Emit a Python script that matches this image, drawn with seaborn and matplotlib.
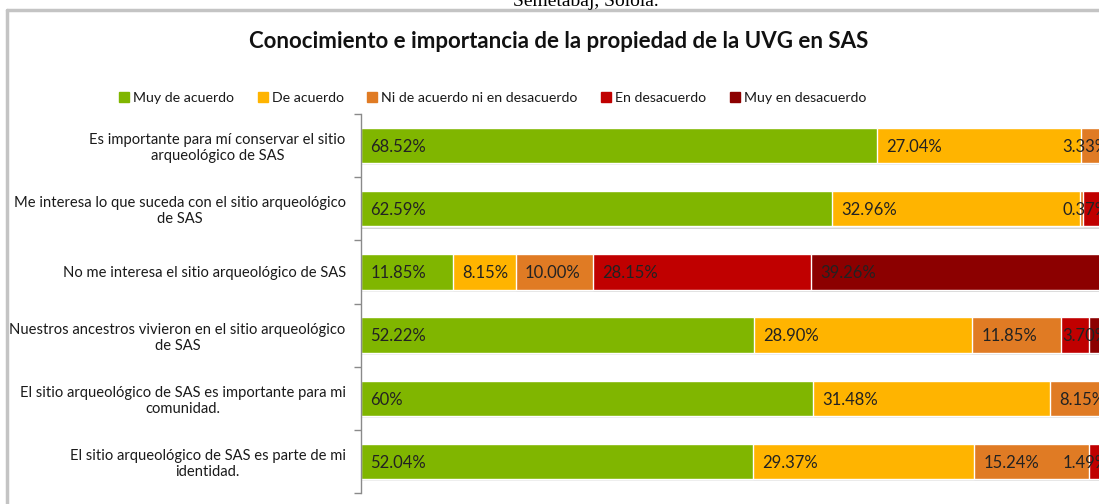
import matplotlib
matplotlib.use("Agg")
import matplotlib.pyplot as plt
import seaborn as sns
import pandas as pd
import numpy as np
from matplotlib.lines import Line2D

# ---------------- data ----------------
statements = [
    "Es importante para mí conservar el sitio\narqueológico de SAS",
    "Me interesa lo que suceda con el sitio arqueológico\nde SAS",
    "No me interesa el sitio arqueológico de SAS",
    "Nuestros ancestros vivieron en el sitio arqueológico\nde SAS",
    "El sitio arqueológico de SAS es importante para mi\ncomunidad.",
    "El sitio arqueológico de SAS es parte de mi\nidentidad.",
]
series = ["Muy de acuerdo", "De acuerdo", "Ni de acuerdo ni en desacuerdo",
          "En desacuerdo", "Muy en desacuerdo"]
muy_de_acuerdo = [68.52, 62.59, 11.85, 52.22, 60.00, 52.04]
de_acuerdo = [27.04, 32.96, 8.15, 28.90, 31.48, 29.37]
ni_de_acuerdo_ni_en_desacuerdo = [3.33, 0.37, 10.00, 11.85, 8.15, 15.24]
en_desacuerdo = [0.74, 2.22, 28.15, 3.70, 0.37, 1.49]
muy_en_desacuerdo = [0.37, 1.86, 39.26, 3.33, 0.00, 1.86]

lab_muy_de_acuerdo = ["68.52%", "62.59%", "11.85%", "52.22%", "60%", "52.04%"]
lab_de_acuerdo = ["27.04%", "32.96%", "8.15%", "28.90%", "31.48%", "29.37%"]
lab_ni_ni = ["3.33%", "0.37%", "10.00%", "11.85%", "8.15%", "15.24%"]
lab_en_desacuerdo = ["", "", "28.15%", "3.70%", "", "1.49%"]
lab_muy_en_desacuerdo = ["", "", "39.26%", "", "", ""]

title = "Conocimiento e importancia de la propiedad de la UVG en SAS"
caption_above = "Semetabaj, Sololá."

colors = ["#80B600", "#FFB400", "#E07B24", "#C00000", "#8C0000"]

values = np.array([muy_de_acuerdo, de_acuerdo, ni_de_acuerdo_ni_en_desacuerdo,
                   en_desacuerdo, muy_en_desacuerdo])
labels = [lab_muy_de_acuerdo, lab_de_acuerdo, lab_ni_ni,
          lab_en_desacuerdo, lab_muy_en_desacuerdo]

# 100% stacked: normalise each row by its total
pct = values / values.sum(axis=0) * 100.0
cum = np.cumsum(pct, axis=0)
starts = cum - pct

# ---------------- style ----------------
sns.set_theme(style="white")
plt.rcParams["font.family"] = ["Lato", "DejaVu Sans"]

W, H = 1099, 504
fig = plt.figure(figsize=(W / 100, H / 100), dpi=100)
fig.patch.set_facecolor("white")

ax_left, ax_right = 361, 1114
ax_top, ax_bot = 114, 493
ax = fig.add_axes([ax_left / W, 1 - ax_bot / H,
                   (ax_right - ax_left) / W, (ax_bot - ax_top) / H])

bar_w = 0.56
# soft drop shadow under each bar
ax.barh(np.arange(len(statements)) + 0.035, cum[-1], height=bar_w,
        color="#d4d4d4", linewidth=0, zorder=0.5)

df = pd.DataFrame({"statement": statements})
for i in reversed(range(len(series))):
    df["cum"] = cum[i]
    sns.barplot(data=df, x="cum", y="statement", order=statements,
                color=colors[i], saturation=1, width=bar_w,
                edgecolor="white", linewidth=1.0, errorbar=None,
                orient="h", ax=ax, zorder=2)

ax.set_xlim(0, 100)
ax.set_ylim(len(statements) - 0.5, -0.5)
ax.set_xlabel("")
ax.set_ylabel("")
ax.xaxis.set_visible(False)
for s in ["top", "right", "bottom"]:
    ax.spines[s].set_visible(False)
ax.spines["left"].set_color("#8a8a8a")
ax.spines["left"].set_linewidth(1.0)
ax.spines["left"].set_zorder(3)

ax.set_yticks(range(len(statements)))
ax.set_yticklabels(statements, fontsize=10.6, color="#1a1a1a",
                   multialignment="center")
ax.set_yticks(np.arange(-0.5, len(statements), 1.0), minor=True)
ax.tick_params(axis="y", which="major", length=0, pad=11)
ax.tick_params(axis="y", which="minor", length=5, width=1.0,
               color="#8a8a8a", direction="out", left=True)

# data labels
texts = []
for i in range(len(series)):
    for r in range(len(statements)):
        lab = labels[i][r]
        if not lab:
            continue
        t = ax.text(starts[i, r] + 1.25, r + 0.02, lab, ha="left", va="center",
                    fontsize=12, color="#222222", clip_on=False, zorder=4)
        texts.append(t)

fig.canvas.draw()
renderer = fig.canvas.get_renderer()
px_per_pct = (ax_right - ax_left) / 100.0
for t in texts:
    w = t.get_window_extent(renderer).width / px_per_pct
    x, y = t.get_position()
    t.set_x(min(x, 100 - w - 0.7))

# legend
handles = [Line2D([0], [0], marker="s", linestyle="none", markersize=6.5,
                  markerfacecolor=c, markeredgecolor=c) for c in colors]
fig.legend(handles, series, loc="center", ncol=5,
           bbox_to_anchor=(493 / W, 1 - 98 / H), frameon=False,
           fontsize=10.2, handlelength=0.6, handletextpad=0.35,
           columnspacing=1.7, labelcolor="#1a1a1a")

# title
fig.text(559 / W, 1 - 42 / H, title, ha="center", va="center",
         fontsize=16, fontweight="bold", color="#111111")

# outer chart frame (partially cropped)
fig.add_artist(Line2D([7 / W, 7 / W], [1 - 10 / H, 0], color="#c4c4c4",
                      lw=2.5, transform=fig.transFigure))
fig.add_artist(Line2D([7 / W, 1], [1 - 10 / H, 1 - 10 / H], color="#c4c4c4",
                      lw=2.5, transform=fig.transFigure))

# cropped caption from the page above
fig.text(586 / W, 1 - 6 / H, caption_above, ha="center", va="baseline",
         fontsize=14, color="#000000", family=["Liberation Serif"])

fig.savefig("out.png", dpi=100, facecolor="white")
